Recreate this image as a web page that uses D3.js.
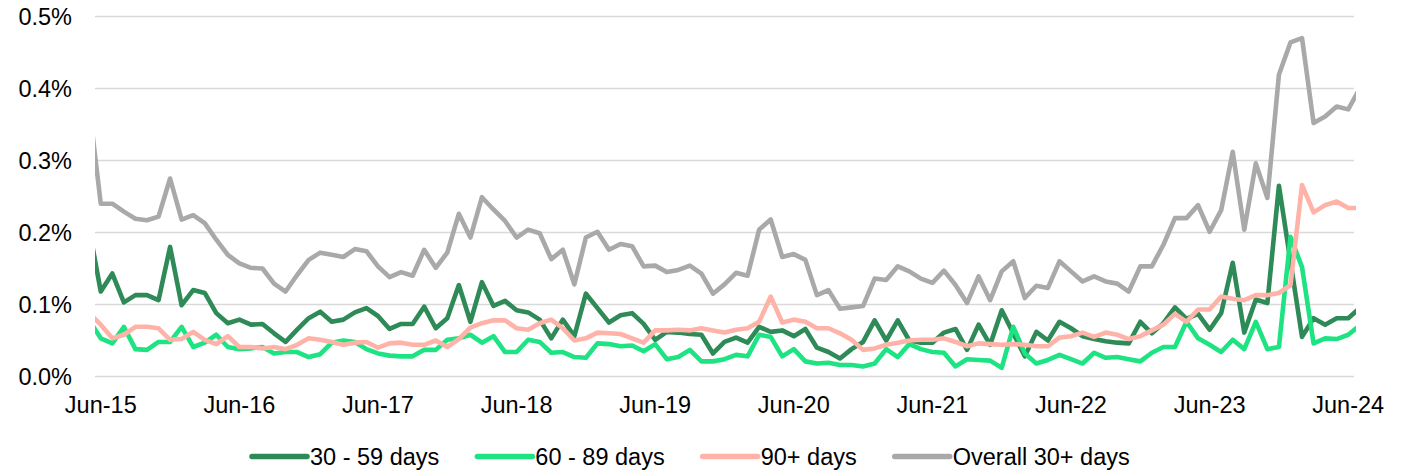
<!DOCTYPE html>
<html>
<head>
<meta charset="utf-8">
<script src="https://cdn.jsdelivr.net/npm/d3@7"></script>
<style>
  body { margin: 0; background: #fff; }
  text { font-family: "Liberation Sans", Arial, sans-serif; fill: #000; }
</style>
</head>
<body>
<div id="chart"></div>
<script>
// monthly, May-15 .. Jul-24 (first and last months are only partly visible)
var months = d3.timeMonth.range(new Date(2015, 4, 1), new Date(2024, 7, 1));

var d30 = [0.205,
  0.118,0.143,0.103,0.113,0.113,0.106,0.180,0.099,0.120,0.116,0.088,0.074,
  0.079,0.072,0.073,0.060,0.048,0.065,0.081,0.090,0.076,0.079,0.089,0.095,
  0.084,0.066,0.073,0.073,0.097,0.067,0.081,0.127,0.076,0.131,0.098,0.105,
  0.092,0.089,0.079,0.053,0.079,0.056,0.115,0.095,0.075,0.085,0.088,0.073,
  0.051,0.062,0.061,0.059,0.058,0.032,0.048,0.054,0.047,0.069,0.062,0.064,
  0.056,0.066,0.040,0.034,0.025,0.038,0.048,0.078,0.050,0.078,0.050,0.047,
  0.047,0.061,0.066,0.037,0.072,0.044,0.092,0.060,0.028,0.062,0.050,0.076,
  0.067,0.056,0.052,0.049,0.047,0.046,0.076,0.060,0.074,0.096,0.080,0.087,
  0.065,0.088,0.158,0.061,0.107,0.102,0.265,0.160,0.055,0.081,0.072,0.081,
  0.081,
  0.095];
var d60 = [0.078,
  0.053,0.046,0.069,0.038,0.037,0.048,0.048,0.069,0.041,0.047,0.058,0.041,
  0.038,0.039,0.041,0.032,0.034,0.034,0.027,0.031,0.047,0.050,0.048,0.038,
  0.032,0.029,0.028,0.028,0.037,0.037,0.051,0.053,0.058,0.047,0.056,0.034,
  0.034,0.051,0.048,0.033,0.034,0.027,0.026,0.046,0.045,0.042,0.043,0.035,
  0.045,0.024,0.027,0.037,0.021,0.021,0.024,0.030,0.028,0.058,0.055,0.028,
  0.038,0.021,0.018,0.019,0.016,0.016,0.014,0.018,0.038,0.027,0.045,0.038,
  0.034,0.033,0.014,0.024,0.023,0.022,0.012,0.069,0.032,0.018,0.023,0.030,
  0.024,0.018,0.033,0.026,0.027,0.024,0.021,0.033,0.041,0.041,0.076,0.053,
  0.044,0.034,0.051,0.038,0.076,0.038,0.041,0.194,0.152,0.046,0.053,0.052,
  0.058,
  0.071];
var d90 = [0.088,
  0.072,0.053,0.058,0.069,0.069,0.067,0.051,0.052,0.062,0.051,0.045,0.056,
  0.041,0.041,0.039,0.041,0.038,0.044,0.053,0.051,0.048,0.044,0.047,0.048,
  0.040,0.046,0.047,0.044,0.044,0.050,0.041,0.052,0.068,0.074,0.078,0.078,
  0.067,0.065,0.074,0.079,0.067,0.050,0.053,0.061,0.060,0.059,0.053,0.047,
  0.064,0.064,0.065,0.064,0.067,0.064,0.061,0.065,0.067,0.076,0.111,0.075,
  0.079,0.076,0.067,0.067,0.060,0.051,0.037,0.039,0.044,0.047,0.050,0.051,
  0.051,0.053,0.048,0.042,0.046,0.045,0.044,0.045,0.044,0.042,0.042,0.054,
  0.056,0.061,0.055,0.061,0.058,0.052,0.056,0.064,0.072,0.087,0.076,0.093,
  0.093,0.111,0.108,0.106,0.113,0.113,0.116,0.127,0.266,0.228,0.238,0.243,
  0.234,
  0.234];
var dAll = [0.375,
  0.240,0.240,0.229,0.219,0.217,0.222,0.275,0.218,0.224,0.213,0.190,0.169,
  0.157,0.151,0.150,0.129,0.118,0.141,0.162,0.172,0.169,0.166,0.177,0.174,
  0.153,0.138,0.145,0.140,0.176,0.151,0.172,0.226,0.193,0.249,0.232,0.216,
  0.193,0.204,0.199,0.163,0.176,0.128,0.193,0.201,0.176,0.184,0.181,0.153,
  0.154,0.145,0.148,0.154,0.143,0.115,0.128,0.144,0.140,0.204,0.218,0.166,
  0.170,0.162,0.113,0.120,0.094,0.096,0.098,0.136,0.134,0.153,0.146,0.136,
  0.130,0.147,0.127,0.102,0.139,0.106,0.146,0.160,0.109,0.126,0.123,0.160,
  0.146,0.132,0.139,0.132,0.129,0.118,0.153,0.153,0.183,0.220,0.220,0.238,
  0.201,0.231,0.312,0.204,0.296,0.248,0.419,0.464,0.470,0.352,0.361,0.375,
  0.371,
  0.400];

var seriesNames = ["30 - 59 days", "60 - 89 days", "90+ days", "Overall 30+ days"];
var seriesColors = ["#2E8A56", "#1DE382", "#FFB3A8", "#A9A9AA"];
var seriesValues = [d30, d60, d90, dAll];
var yTicks = [0, 0.1, 0.2, 0.3, 0.4, 0.5];

var width = 1406, height = 471;
var fmtMonth = d3.timeFormat("%b-%y");

var svg = d3.select("#chart").append("svg")
  .attr("width", width)
  .attr("height", height)
  .style("background", "#fff");

// index 0 = Jun-15, so May-15 is -1
var x = d3.scaleLinear().domain([-0.5, 108.5]).range([95, 1354]);
var y = d3.scaleLinear().domain([0, 0.5]).range([376.5, 16.5]);

// gridlines
svg.append("g")
  .selectAll("line")
  .data(yTicks)
  .enter()
  .append("line")
  .attr("x1", x(-0.5))
  .attr("x2", x(108.5))
  .attr("y1", function(d) { return y(d); })
  .attr("y2", function(d) { return y(d); })
  .attr("stroke", "#D9D9D9")
  .attr("stroke-width", 1.3);

// y labels
svg.append("g")
  .selectAll("text")
  .data(yTicks)
  .enter()
  .append("text")
  .attr("x", 72)
  .attr("y", function(d) { return y(d); })
  .attr("dy", "0.36em")
  .attr("text-anchor", "end")
  .attr("font-size", "23.5px")
  .text(function(d) { return d.toFixed(1) + "%"; });

// x labels, every June
var junes = months.map(function(m, i) { return { date: m, idx: i - 1 }; })
  .filter(function(d) { return d.date.getMonth() === 5; });
svg.append("g")
  .selectAll("text")
  .data(junes)
  .enter()
  .append("text")
  .attr("x", function(d) { return x(d.idx); })
  .attr("y", 413)
  .attr("text-anchor", "middle")
  .attr("font-size", "23.5px")
  .text(function(d) { return fmtMonth(d.date); });

svg.append("clipPath")
  .attr("id", "plot")
  .append("rect")
  .attr("x", x(-0.5))
  .attr("y", 0)
  .attr("width", x(108.5) - x(-0.5) + 2)
  .attr("height", height);

var line = d3.line()
  .x(function(d, i) { return x(i - 1); })
  .y(function(d) { return y(d); });

svg.append("g")
  .attr("clip-path", "url(#plot)")
  .selectAll("path")
  .data(seriesValues)
  .enter()
  .append("path")
  .attr("d", line)
  .attr("fill", "none")
  .attr("stroke", function(d, i) { return seriesColors[i]; })
  .attr("stroke-width", 4.6)
  .attr("stroke-linejoin", "round");

// legend
var lg = svg.append("g");
var lx = 252;
seriesNames.forEach(function(name, i) {
  lg.append("line")
    .attr("x1", lx).attr("x2", lx + 55)
    .attr("y1", 456.5).attr("y2", 456.5)
    .attr("stroke", seriesColors[i])
    .attr("stroke-width", 5.5)
    .attr("stroke-linecap", "round");
  var t = lg.append("text")
    .attr("x", lx + 58)
    .attr("y", 464.5)
    .attr("font-size", "23.5px")
    .text(name);
  lx = lx + 58 + t.node().getComputedTextLength() + 38;
});
</script>
</body>
</html>
